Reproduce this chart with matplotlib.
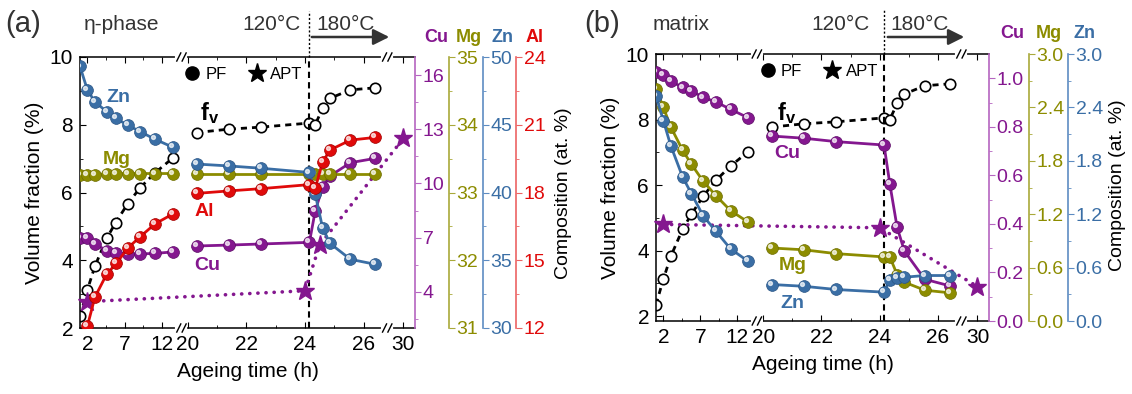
import matplotlib.pyplot as plt
import numpy as np
from matplotlib.lines import Line2D
from matplotlib.patches import FancyArrowPatch
from matplotlib.ticker import FormatStrFormatter
from matplotlib.transforms import offset_copy

plt.rcParams['font.family'] = ['Liberation Sans', 'DejaVu Sans']
plt.rcParams['mathtext.fontset'] = 'custom'
plt.rcParams['mathtext.rm'] = 'Liberation Sans'
plt.rcParams['mathtext.bf'] = 'Liberation Sans:bold'

W, H = 1132, 394

# ageing times (h): 120 °C up to ~24 h, 180 °C afterwards
t_early = [1, 2, 3, 4.6, 5.8, 7.4, 9.1, 11.1, 13.5]
t_late = [20.3, 21.4, 22.5, 24.15, 24.35, 24.6, 24.85, 25.55, 26.4]
t_switch = 24.15

# volume fraction of eta (%), same curve in both panels
fv_early = [2.35, 3.13, 3.82, 4.65, 5.11, 5.66, 6.14, 6.58, 7.02]
fv_late = [7.77, 7.87, 7.93, 8.05, 8.0, 8.49, 8.78, 9.03, 9.09]

# (a) eta-phase composition (at. %)
eta_cu_early = [6.96, 6.96, 6.65, 6.28, 6.17, 6.10, 6.10, 6.13, 6.21]
eta_cu_late = [6.54, 6.59, 6.65, 6.74, 8.49, 9.79, 10.41, 11.15, 11.39]
eta_mg_early = [33.26, 33.26, 33.26, 33.27, 33.28, 33.28, 33.28, 33.28, 33.28]
eta_mg_late = [33.28, 33.28, 33.28, 33.28, 33.28, 33.28, 33.28, 33.28, 33.28]
eta_zn_early = [49.3, 47.56, 46.7, 45.96, 45.48, 44.98, 44.49, 43.93, 43.34]
eta_zn_late = [42.1, 41.96, 41.79, 41.48, 39.87, 37.4, 36.25, 35.07, 34.7]
t_eta_al_early = [2, 3, 4.6, 5.9, 7.4, 9.1, 11.1, 13.5]
eta_al_early = [12.09, 13.36, 14.39, 14.86, 15.53, 16.04, 16.61, 17.05]
eta_al_late = [17.96, 18.07, 18.17, 18.35, 18.19, 19.34, 19.88, 20.32, 20.44]
t_eta_apt = [2, 24, 24.5, 30]
eta_cu_apt = [3.46, 4.06, 6.59, 12.5]

# (b) matrix composition (at. %)
mat_cu_early = [1.026, 1.012, 0.989, 0.962, 0.948, 0.921, 0.903, 0.872, 0.837]
mat_cu_late = [0.762, 0.753, 0.739, 0.725, 0.564, 0.386, 0.288, 0.172, 0.145]
mat_mg_early = [2.61, 2.40, 2.18, 1.92, 1.76, 1.57, 1.41, 1.24, 1.11]
mat_mg_late = [0.82, 0.80, 0.757, 0.72, 0.72, 0.522, 0.436, 0.346, 0.317]
mat_zn_early = [2.53, 2.25, 1.97, 1.62, 1.43, 1.18, 1.01, 0.81, 0.67]
mat_zn_late = [0.41, 0.39, 0.354, 0.324, 0.466, 0.485, 0.492, 0.511, 0.511]
t_mat_apt = [2, 24, 30]
mat_cu_apt = [0.398, 0.384, 0.142]

x_major = [2, 7, 12, 20, 22, 24, 26, 30]
x_minor = [4.5, 9.5, 21, 23, 25]

PURPLE, PURPLE_AX = '#84178f', '#b565c0'
OLIVE, OLIVE_AX = '#8c8c00', '#a9a93a'
BLUE, BLUE_AX = '#3a6ea5', '#5d8cc2'
RED, RED_AX = '#e00a0a', '#ec6363'
GREY = '#333333'

# broken time axis: piecewise linear mapping (gaps 14.6-19.8 h and 26.8-29.45 h squeezed)
XK = np.array([1, 14.6, 19.8, 26.8, 29.45, 30.4])
UK = np.array([0, 101, 102, 307, 307.5, 335])


def fwd(x):
    x = np.asarray(x, dtype=float)
    u = np.interp(x, XK, UK)
    u = np.where(x < XK[0], UK[0] + (x - XK[0]) * 7.43, u)
    return np.where(x > XK[-1], UK[-1] + (x - XK[-1]) * 29.0, u)


def inv(u):
    u = np.asarray(u, dtype=float)
    x = np.interp(u, UK, XK)
    x = np.where(u < UK[0], XK[0] + (u - UK[0]) / 7.43, x)
    return np.where(u > UK[-1], XK[-1] + (u - UK[-1]) / 29.0, x)


fig = plt.figure(figsize=(W / 100, H / 100), dpi=100)


def ftext(px, py, s, **kw):
    fig.text(px / W, 1 - py / H, s, **kw)


def balls(ax, t, y, color, edge):
    ax.plot(t, y, '-', color=color, lw=2, marker='o', ms=8.5, mfc=color, mec=edge, mew=0.5)
    shine = offset_copy(ax.transData, fig=fig, x=-1.4, y=1.4, units='points')
    ax.plot(t, y, ls='', marker='o', ms=2.8, color='white', alpha=0.7, transform=shine)


def apt(ax, t, y):
    ax.plot(t, y, color=PURPLE, lw=2.6, ls=(0, (0.05, 2.2)), dash_capstyle='round',
            clip_on=False)
    ax.plot(t, y, ls='', color=PURPLE, marker='*', ms=14, clip_on=False)


def main_axes(rect, ylim):
    ax = fig.add_axes(rect)
    ax.set_xscale('function', functions=(fwd, inv))
    ax.set_xlim(1, 30.4)
    ax.set_ylim(*ylim)
    ax.set_xticks(x_major)
    ax.set_xticklabels([str(v) for v in x_major])
    ax.set_xticks(x_minor, minor=True)
    ax.set_yticks([2, 4, 6, 8, 10])
    ax.set_yticks([3, 5, 7, 9], minor=True)
    ax.tick_params(which='both', direction='in', top=True, right=False, labelsize=15, pad=5)
    ax.tick_params(which='major', length=4)
    ax.tick_params(which='minor', length=2.5)
    ax.spines['right'].set_visible(False)
    for s in ('left', 'top', 'bottom'):
        ax.spines[s].set_linewidth(1.1)
    ax.set_xlabel('Ageing time (h)', fontsize=15, labelpad=6)
    ax.set_ylabel('Volume fraction (%)', fontsize=15, labelpad=4)

    # fv curve
    for t, v in ((t_early, fv_early), (t_late, fv_late)):
        ax.plot(t, v, color='k', lw=2, dashes=(2.2, 1.8), marker='o', ms=7.5,
                mfc='white', mec='k', mew=1.2)

    # 120 / 180 °C switch
    ax.axvline(t_switch, color='k', lw=1.5, dashes=(3, 2))
    ax.plot([t_switch, t_switch], [ylim[1], ylim[1] + 1.35], color='k', lw=1,
            dashes=(1.5, 1.5), clip_on=False)

    # axis breaks
    span = fwd(30.4) - fwd(1)
    for xb in (17.0, 28.0):
        bx = float((fwd(xb) - fwd(1)) / span)
        for yb in (0, 1):
            ax.plot([bx - 0.012, bx + 0.012], [yb, yb], color='white', lw=3,
                    transform=ax.transAxes, clip_on=False, zorder=5)
            for dx in (-0.008, 0.008):
                ax.plot([bx + dx - 0.006, bx + dx + 0.006], [yb - 0.015, yb + 0.015],
                        color='k', lw=1, transform=ax.transAxes, clip_on=False, zorder=6)

    handles = [Line2D([], [], ls='', marker='o', color='k', ms=9.5),
               Line2D([], [], ls='', marker='*', color='k', ms=14)]
    ax.legend(handles, ['PF', 'APT'], ncol=2, frameon=False, loc='upper left',
              bbox_to_anchor=(0.28, 1.0), fontsize=12, handletextpad=0.3,
              columnspacing=1.3, handlelength=1.0, borderaxespad=0.2)
    return ax


def comp_axis(host, offset_px, width_px, ylim, ticks, minor, spine_c, text_c, fmt=None):
    ax = host.twinx()
    ax.spines['right'].set_position(('axes', 1 + offset_px / width_px))
    for s in ('left', 'top', 'bottom'):
        ax.spines[s].set_visible(False)
    ax.spines['right'].set_color(spine_c)
    ax.spines['right'].set_linewidth(1.2)
    ax.set_ylim(*ylim)
    ax.set_yticks(ticks)
    ax.set_yticks(minor, minor=True)
    if fmt:
        ax.yaxis.set_major_formatter(FormatStrFormatter(fmt))
    ax.tick_params(axis='y', which='both', direction='out', colors=spine_c,
                   labelcolor=text_c, labelsize=14, pad=1.5)
    ax.tick_params(axis='y', which='major', length=4)
    ax.tick_params(axis='y', which='minor', length=2.5)
    return ax


# ---------------- (a) eta-phase ----------------
ax_a = main_axes([80 / W, (H - 328) / H, 335 / W, 271 / H], (2, 10))
cu_a = comp_axis(ax_a, 0, 335, (2, 17), [4, 7, 10, 13, 16], [2.5, 5.5, 8.5, 11.5, 14.5],
                 PURPLE_AX, PURPLE)
mg_a = comp_axis(ax_a, 34, 335, (31, 35), [31, 32, 33, 34, 35], [31.5, 32.5, 33.5, 34.5],
                 OLIVE_AX, OLIVE)
zn_a = comp_axis(ax_a, 68, 335, (30, 50), [30, 35, 40, 45, 50], [32.5, 37.5, 42.5, 47.5],
                 BLUE_AX, BLUE)
al_a = comp_axis(ax_a, 101, 335, (12, 24), [12, 15, 18, 21, 24], [13.5, 16.5, 19.5, 22.5],
                 RED_AX, RED)

balls(mg_a, t_early, eta_mg_early, OLIVE, '#6e6e00')
balls(mg_a, t_late, eta_mg_late, OLIVE, '#6e6e00')
balls(zn_a, t_early, eta_zn_early, BLUE, '#2a5585')
balls(zn_a, t_late, eta_zn_late, BLUE, '#2a5585')
balls(al_a, t_eta_al_early, eta_al_early, RED, '#a00000')
balls(al_a, t_late, eta_al_late, RED, '#a00000')
balls(cu_a, t_early, eta_cu_early, PURPLE, '#5c0c66')
balls(cu_a, t_late, eta_cu_late, PURPLE, '#5c0c66')
apt(cu_a, t_eta_apt, eta_cu_apt)

# ---------------- (b) matrix ----------------
ax_b = main_axes([656 / W, (H - 321) / H, 333 / W, 267 / H], (1.85, 10))
cu_b = comp_axis(ax_b, 0, 333, (0, 1.1), [0, 0.2, 0.4, 0.6, 0.8, 1.0],
                 [0.1, 0.3, 0.5, 0.7, 0.9], PURPLE_AX, PURPLE, '%.1f')
mg_b = comp_axis(ax_b, 40, 333, (0, 3), [0, 0.6, 1.2, 1.8, 2.4, 3.0],
                 [0.3, 0.9, 1.5, 2.1, 2.7], OLIVE_AX, OLIVE, '%.1f')
zn_b = comp_axis(ax_b, 79, 333, (0, 3), [0, 0.6, 1.2, 1.8, 2.4, 3.0],
                 [0.3, 0.9, 1.5, 2.1, 2.7], BLUE_AX, BLUE, '%.1f')

balls(mg_b, t_early, mat_mg_early, OLIVE, '#6e6e00')
balls(mg_b, t_late, mat_mg_late, OLIVE, '#6e6e00')
balls(zn_b, t_early, mat_zn_early, BLUE, '#2a5585')
balls(zn_b, t_late, mat_zn_late, BLUE, '#2a5585')
balls(cu_b, t_early, mat_cu_early, PURPLE, '#5c0c66')
balls(cu_b, t_late, mat_cu_late, PURPLE, '#5c0c66')
apt(cu_b, t_mat_apt, mat_cu_apt)

# ---------------- annotations ----------------
bold = dict(fontsize=14, fontweight='bold', ha='center', va='center')
ftext(23, 24, '(a)', fontsize=21, color=GREY, ha='center', va='center')
ftext(84, 25, 'η-phase', fontsize=15, color=GREY, ha='left', va='center')
ftext(271, 25, '120°C', fontsize=15, color=GREY, ha='center', va='center')
ftext(346, 25, '180°C', fontsize=15, color=GREY, ha='center', va='center')
ftext(118, 98, 'Zn', color=BLUE, **bold)
ftext(117, 159, 'Mg', color=OLIVE, **bold)
ftext(204, 212, 'Al', color=RED, **bold)
ftext(207, 266, 'Cu', color=PURPLE, **bold)
ftext(210, 113, r'$\mathbf{f_v}$', fontsize=17, ha='center', va='center')
for px, s, c in ((436, 'Cu', PURPLE), (469, 'Mg', OLIVE), (502, 'Zn', BLUE), (535, 'Al', RED)):
    ftext(px, 37, s, fontsize=13, fontweight='bold', color=c, ha='center', va='center')
ftext(563, 193, 'Composition (at. %)', fontsize=14, rotation=90, ha='center', va='center')

ftext(602, 24, '(b)', fontsize=21, color=GREY, ha='center', va='center')
ftext(653, 25, 'matrix', fontsize=15, color=GREY, ha='left', va='center')
ftext(840, 25, '120°C', fontsize=15, color=GREY, ha='center', va='center')
ftext(920, 25, '180°C', fontsize=15, color=GREY, ha='center', va='center')
ftext(787, 153, 'Cu', color=PURPLE, **bold)
ftext(793, 266, 'Mg', color=OLIVE, **bold)
ftext(792, 303, 'Zn', color=BLUE, **bold)
ftext(787, 113, r'$\mathbf{f_v}$', fontsize=17, ha='center', va='center')
for px, s, c in ((1012, 'Cu', PURPLE), (1049, 'Mg', OLIVE), (1084, 'Zn', BLUE)):
    ftext(px, 33, s, fontsize=13, fontweight='bold', color=c, ha='center', va='center')
ftext(1117, 185, 'Composition (at. %)', fontsize=14, rotation=90, ha='center', va='center')

for x0, x1, y in ((309, 392, 37), (885, 967, 37)):
    fig.patches.append(FancyArrowPatch(
        (x0 / W, 1 - y / H), (x1 / W, 1 - y / H), transform=fig.transFigure,
        arrowstyle='-|>', mutation_scale=24, lw=1.8, color=GREY))

fig.savefig('out.png', dpi=100)
